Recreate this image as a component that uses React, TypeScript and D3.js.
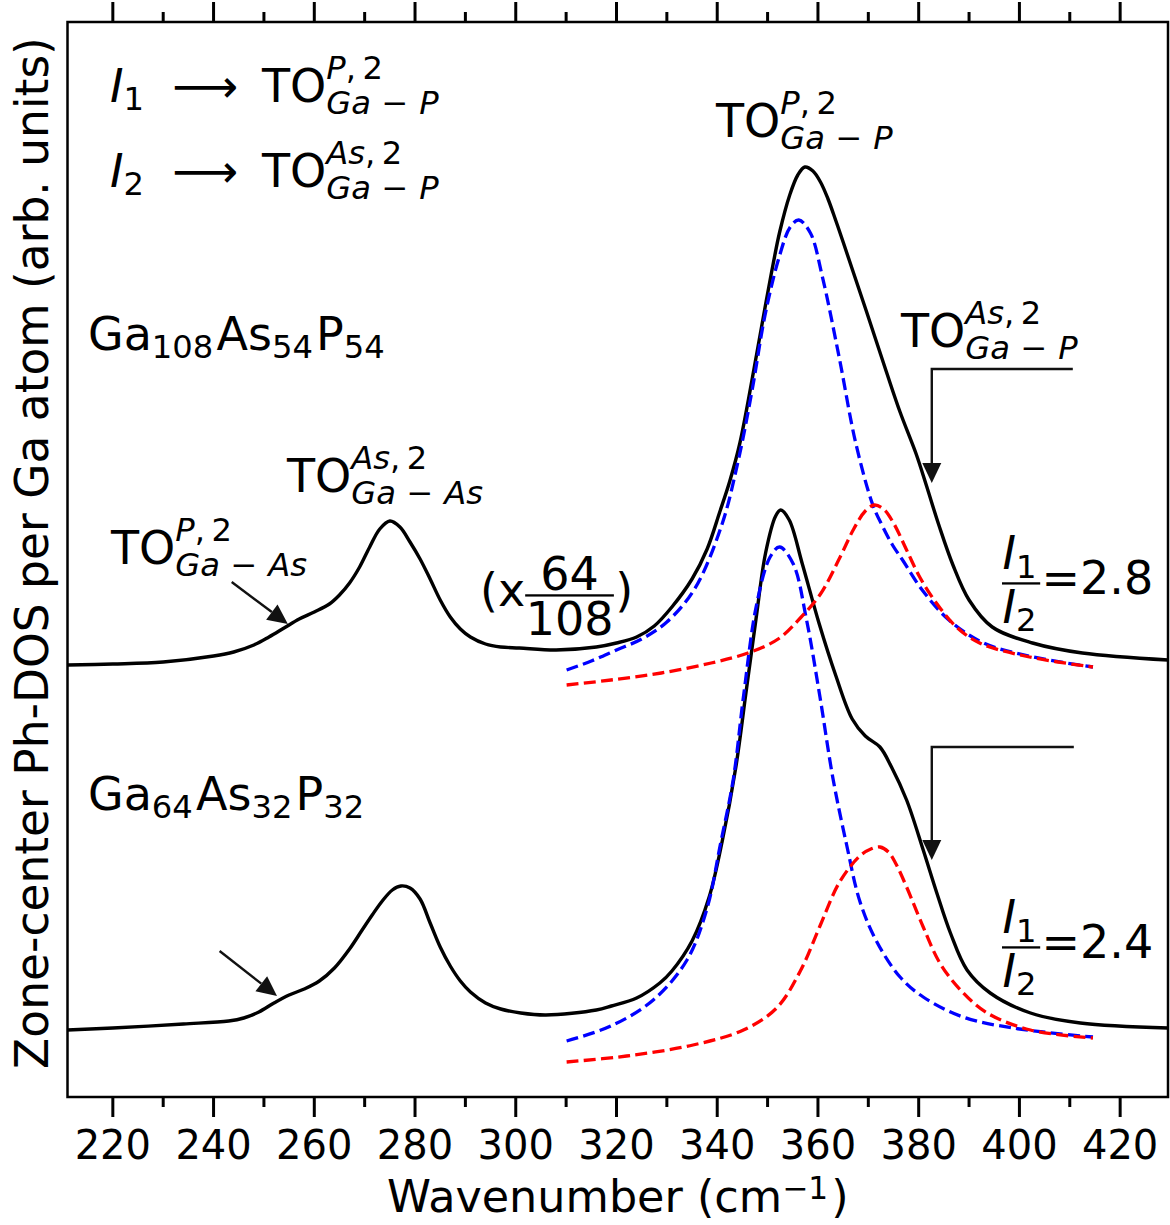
import React from 'react';
import * as d3 from 'd3';

// ---------- data ----------
const X_DOMAIN: [number, number] = [211, 429.5];
const Y_DOMAIN: [number, number] = [0, 10.75];
const MAJOR_TICKS = [220, 240, 260, 280, 300, 320, 340, 360, 380, 400, 420];
const MINOR_TICKS = [230, 250, 270, 290, 310, 330, 350, 370, 390, 410];

// Ga108As54P54 (scaled x64/108), total
const ga108Wave = [211, 220, 230, 240, 244, 248, 251, 254, 257, 260, 263, 265, 267, 269, 271, 273, 275, 277, 279, 281, 283, 285, 287, 289, 291, 294, 297, 300.7, 308, 316, 320, 324, 327.5, 331, 335, 338, 340.5, 342.5, 344.5, 347.8, 349.8, 351.1, 352.4, 354.4, 356, 357.4, 359, 360.5, 362, 363.5, 365, 367, 369.6, 373.6, 376.3, 379.5, 381.5, 384, 386.8, 390, 394.6, 402.6, 412.5, 429.5];
const ga108Total = [4.32, 4.33, 4.35, 4.41, 4.45, 4.52, 4.6, 4.69, 4.78, 4.85, 4.93, 5.02, 5.14, 5.3, 5.5, 5.68, 5.76, 5.7, 5.55, 5.38, 5.18, 4.97, 4.8, 4.68, 4.6, 4.53, 4.5, 4.49, 4.47, 4.5, 4.54, 4.6, 4.71, 4.9, 5.18, 5.48, 5.85, 6.16, 6.54, 7.42, 7.98, 8.33, 8.65, 9.02, 9.22, 9.3, 9.26, 9.15, 8.98, 8.77, 8.55, 8.25, 7.86, 7.25, 6.85, 6.43, 6.12, 5.72, 5.32, 4.97, 4.7, 4.54, 4.44, 4.37];
// fitted components (Ga108)
const ga108P_Wave = [310.1, 315, 320, 325, 330, 335.5, 340.9, 344.2, 346.9, 349.5, 352.3, 354.5, 356.2, 358.5, 360.8, 364.2, 367.5, 370.9, 372.9, 374.8, 376.8, 380.7, 386, 392.9, 402.8, 414.6];
const ga108P_Val = [4.27, 4.36, 4.47, 4.58, 4.75, 5.08, 5.72, 6.37, 7.06, 7.82, 8.4, 8.7, 8.77, 8.64, 8.22, 7.4, 6.54, 5.92, 5.7, 5.52, 5.37, 5.07, 4.77, 4.54, 4.4, 4.3];
const ga108As_Wave = [310.1, 318.9, 328.9, 338.8, 346.1, 352.1, 356.5, 360.5, 364.5, 367.1, 369.4, 371.2, 373, 375, 377.6, 380.2, 383.5, 387.5, 392.1, 402, 414.6];
const ga108As_Val = [4.12, 4.17, 4.24, 4.34, 4.44, 4.58, 4.79, 5.03, 5.41, 5.68, 5.86, 5.92, 5.88, 5.74, 5.47, 5.2, 4.94, 4.7, 4.54, 4.4, 4.3];

// Ga64As32P32, total
const ga64Wave = [211, 220, 234, 243, 246, 249, 252, 255, 258, 261, 264, 267, 269.5, 271.5, 273.5, 275.5, 277.2, 279, 281, 283, 285, 287, 289, 291, 294, 297, 301, 306, 316, 319, 324, 328.6, 331, 335, 338.4, 341, 343.7, 345.7, 347.7, 349.6, 351.6, 352.6, 354.3, 356.9, 360.2, 363.5, 366.8, 369.4, 372.3, 374.6, 377.6, 380.9, 383.6, 386.3, 389.6, 394.2, 402.2, 412.1, 429.5];
const ga64Total = [0.67, 0.69, 0.73, 0.76, 0.79, 0.85, 0.94, 1.02, 1.08, 1.16, 1.29, 1.48, 1.67, 1.82, 1.96, 2.07, 2.11, 2.09, 1.98, 1.74, 1.5, 1.31, 1.16, 1.05, 0.94, 0.88, 0.84, 0.82, 0.87, 0.91, 0.99, 1.14, 1.26, 1.56, 2.0, 2.56, 3.3, 4.04, 4.78, 5.44, 5.81, 5.87, 5.77, 5.33, 4.74, 4.22, 3.78, 3.61, 3.5, 3.3, 2.97, 2.47, 2.04, 1.64, 1.27, 1.04, 0.84, 0.74, 0.69];
const ga64P_Wave = [310.1, 318.9, 327.3, 334, 338, 340.6, 343.2, 345.2, 347.8, 350.5, 352.4, 355.1, 357.7, 360.4, 363, 365.7, 368.3, 371.6, 376.3, 380.9, 388.8, 398.7, 414.6];
const ga64P_Val = [0.56, 0.71, 0.97, 1.37, 1.89, 2.52, 3.18, 4.0, 4.92, 5.4, 5.5, 5.33, 4.78, 4.0, 3.18, 2.52, 1.96, 1.56, 1.2, 1.0, 0.8, 0.69, 0.6];
const ga64As_Wave = [310.1, 322, 335.2, 345.2, 351.8, 356.5, 360.4, 364.3, 368.3, 370.5, 372.3, 374, 375.5, 377.6, 380.9, 384.2, 388.3, 393.6, 402.2, 414.6];
const ga64As_Val = [0.35, 0.41, 0.52, 0.67, 0.89, 1.26, 1.71, 2.15, 2.41, 2.48, 2.5, 2.45, 2.33, 2.1, 1.7, 1.34, 1.07, 0.84, 0.67, 0.59];

// annotation arrows, data coordinates [wavenumber, intensity]; last point = tip
const arrowUpperBracket: [number, number][] = [[410.6, 7.28], [382.6, 7.28], [382.6, 6.14]];
const arrowLowerBracket: [number, number][] = [[410.8, 3.5], [382.6, 3.5], [382.6, 2.37]];
const arrowUpperDiag: [number, number][] = [[243.6, 5.15], [254.75, 4.73]];
const arrowLowerDiag: [number, number][] = [[241.2, 1.46], [252.6, 1.01]];

// ---------- layout ----------
const W = 1170, H = 1225;
const M = { left: 67.5, right: 1168, top: 22, bottom: 1097 };
const FONT = 'DejaVu Sans';
const FS = 46, TICK_FS = 40, LABEL_FS = 44.5, YLABEL_FS = 45.5;

type MNode =
  | { t: string; it?: boolean }
  | { gap: number }
  | { at: number }
  | { frac: [MNode[], MNode[]] }
  | { sub?: MNode[]; sup?: MNode[]; supShift?: number };
type Run = { x: number; y: number; t: string; size: number; it?: boolean };
type Bar = { x1: number; x2: number; y: number; th: number };

let _ctx: CanvasRenderingContext2D | null = null;
function tw(t: string, size: number, it?: boolean) {
  if (!_ctx) _ctx = document.createElement('canvas').getContext('2d');
  if (!_ctx) return t.length * size * 0.6;
  _ctx.font = `${it ? 'italic ' : ''}${size}px "${FONT}"`;
  return _ctx.measureText(t).width;
}
function hasSub(nodes: MNode[]): boolean {
  return nodes.some((n) => 'sub' in n && !!(n as any).sub);
}
function lay(nodes: MNode[], x0: number, y: number, size: number, runs: Run[], bars: Bar[]): number {
  let x = x0;
  for (const n of nodes) {
    if ('t' in n) {
      runs.push({ x, y, t: n.t, size, it: n.it });
      x += tw(n.t, size, n.it);
    } else if ('gap' in n) {
      x += n.gap * size;
    } else if ('at' in n) {
      x = n.at;
    } else if ('frac' in n) {
      const [num, den] = n.frac;
      const nr: Run[] = [], nb: Bar[] = [];
      const wn = lay(num, 0, 0, size, nr, nb);
      const dr: Run[] = [], db: Bar[] = [];
      const wd = lay(den, 0, 0, size, dr, db);
      const w = Math.max(wn, wd) + 0.02 * size;
      const th = 0.05 * size;
      const bar = y - 0.23 * size;
      const numBase = bar - 2.5 * th - (hasSub(num) ? 0.18 * size : 0);
      const denBase = bar + 2.5 * th + 0.729 * size;
      nr.forEach((r) => runs.push({ ...r, x: x + (w - wn) / 2 + r.x, y: numBase + r.y }));
      dr.forEach((r) => runs.push({ ...r, x: x + (w - wd) / 2 + r.x, y: denBase + r.y }));
      bars.push({ x1: x, x2: x + w, y: bar, th });
      x += w + 0.03 * size;
    } else {
      const s2 = size * 0.7;
      const both = !!(n.sub && n.sup);
      let w1 = 0, w2 = 0;
      const up = n.supShift ?? (both ? 0.5 : 0.4);
      if (n.sup) w1 = lay(n.sup, x, y - up * size, s2, runs, bars) - x;
      if (n.sub) w2 = lay(n.sub, x, y + (both ? 0.25 : 0.18) * size, s2, runs, bars) - x;
      x += Math.max(w1, w2) + 0.1 * s2;
    }
  }
  return x;
}

function MathText({ nodes, x, y, size, anchor = 'start' }: { nodes: MNode[]; x: number; y: number; size: number; anchor?: 'start' | 'middle' }) {
  const runs: Run[] = [], bars: Bar[] = [];
  let off = 0;
  if (anchor === 'middle') {
    const tr: Run[] = [], tb: Bar[] = [];
    const w = lay(nodes, 0, 0, size, tr, tb);
    off = -w / 2;
  }
  lay(nodes, x + off, y, size, runs, bars);
  return (
    <g>
      <text fontFamily={FONT} fill="#000">
        {runs.map((r, i) => (
          <tspan key={i} x={r.x} y={r.y} fontSize={r.size} fontStyle={r.it ? 'italic' : 'normal'}>
            {r.t}
          </tspan>
        ))}
      </text>
      {bars.map((b, i) => (
        <rect key={'b' + i} x={b.x1} y={b.y - b.th / 2} width={b.x2 - b.x1} height={b.th} fill="#000" />
      ))}
    </g>
  );
}

const it = (t: string): MNode => ({ t, it: true });
const rm = (t: string): MNode => ({ t });
const MINUS_SP = '\u2004\u2212\u2004';
const TO = (supA: string, subB: string): MNode[] => [
  rm('TO'),
  { sup: [it(supA), rm(',\u2009'), rm('2')], sub: [it('Ga'), rm(MINUS_SP), it(subB)] },
];

function Arrow({ pts, sx, sy }: { pts: [number, number][]; sx: (v: number) => number; sy: (v: number) => number }) {
  const p = pts.map(([a, b]) => [sx(a), sy(b)] as [number, number]);
  const tip = p[p.length - 1];
  const prev = p[p.length - 2];
  const dx = tip[0] - prev[0], dy = tip[1] - prev[1];
  const len = Math.hypot(dx, dy);
  const ux = dx / len, uy = dy / len;
  const hl = 20, hw = 9.5;
  const base: [number, number] = [tip[0] - ux * hl, tip[1] - uy * hl];
  const linePts = [...p.slice(0, -1), base];
  const d = 'M' + linePts.map((q) => q.join(',')).join('L');
  const head = [
    tip,
    [base[0] - uy * hw, base[1] + ux * hw],
    [base[0] + uy * hw, base[1] - ux * hw],
  ];
  return (
    <g>
      <path d={d} fill="none" stroke="#111" strokeWidth={2.4} />
      <polygon points={head.map((q) => q.join(',')).join(' ')} fill="#111" />
    </g>
  );
}

export default function App() {
  const x = d3.scaleLinear().domain(X_DOMAIN).range([M.left, M.right]);
  const y = d3.scaleLinear().domain(Y_DOMAIN).range([M.bottom, M.top]);
  const line = d3
    .line<[number, number]>()
    .x((d) => x(d[0]))
    .y((d) => y(d[1]))
    .curve(d3.curveCatmullRom.alpha(0.5));
  const pts = (w: number[], v: number[]) => w.map((a, i) => [a, v[i]] as [number, number]);

  const dash = '12 5.3';

  return (
    <svg width={W} height={H} style={{ position: 'absolute', left: 0, top: 0, background: '#fff' }}>
      <rect x={0} y={0} width={W} height={H} fill="#fff" />
      {/* curves */}
      <path d={line(pts(ga108Wave, ga108Total)) || ''} fill="none" stroke="#000" strokeWidth={3.4} strokeLinejoin="round" />
      <path d={line(pts(ga64Wave, ga64Total)) || ''} fill="none" stroke="#000" strokeWidth={3.4} strokeLinejoin="round" />
      <path d={line(pts(ga108P_Wave, ga108P_Val)) || ''} fill="none" stroke="#0000ff" strokeWidth={3.3} strokeDasharray={dash} />
      <path d={line(pts(ga64P_Wave, ga64P_Val)) || ''} fill="none" stroke="#0000ff" strokeWidth={3.3} strokeDasharray={dash} />
      <path d={line(pts(ga108As_Wave, ga108As_Val)) || ''} fill="none" stroke="#ff0000" strokeWidth={3.3} strokeDasharray={dash} />
      <path d={line(pts(ga64As_Wave, ga64As_Val)) || ''} fill="none" stroke="#ff0000" strokeWidth={3.3} strokeDasharray={dash} />

      {/* frame */}
      <rect x={M.left} y={M.top} width={M.right - M.left} height={M.bottom - M.top} fill="none" stroke="#000" strokeWidth={2.5} />
      {/* ticks */}
      {MAJOR_TICKS.map((t) => (
        <g key={'M' + t}>
          <line x1={x(t)} x2={x(t)} y1={M.bottom} y2={M.bottom + 20} stroke="#000" strokeWidth={3} />
          <line x1={x(t)} x2={x(t)} y1={M.top} y2={M.top - 20} stroke="#000" strokeWidth={3} />
          <text x={x(t)} y={1159} fontSize={TICK_FS} fontFamily={FONT} textAnchor="middle" fill="#000">
            {t}
          </text>
        </g>
      ))}
      {MINOR_TICKS.map((t) => (
        <g key={'m' + t}>
          <line x1={x(t)} x2={x(t)} y1={M.bottom} y2={M.bottom + 10} stroke="#000" strokeWidth={3} />
          <line x1={x(t)} x2={x(t)} y1={M.top} y2={M.top - 10} stroke="#000" strokeWidth={3} />
        </g>
      ))}
      {/* axis labels */}
      <MathText nodes={[rm('Wavenumber (cm'), { sup: [rm('\u22121')], supShift: 0.3 }, rm(')')]} x={(M.left + M.right) / 2} y={1212} size={LABEL_FS} anchor="middle" />
      <text transform={`translate(48,553) rotate(-90)`} fontSize={YLABEL_FS} fontFamily={FONT} textAnchor="middle" fill="#000">
        Zone-center Ph-DOS per Ga atom (arb. units)
      </text>

      {/* annotations */}
      <MathText nodes={[it('I'), { sub: [rm('1')] }, { at: 172 }, rm('\u27F6'), { at: 262 }, ...TO('P', 'P')]} x={110} y={102} size={FS} />
      <MathText nodes={[it('I'), { sub: [rm('2')] }, { at: 172 }, rm('\u27F6'), { at: 262 }, ...TO('As', 'P')]} x={110} y={187} size={FS} />
      <MathText nodes={[rm('Ga'), { sub: [rm('108')] }, rm('As'), { sub: [rm('54')] }, rm('P'), { sub: [rm('54')] }]} x={88} y={350} size={FS} />
      <MathText nodes={[rm('Ga'), { sub: [rm('64')] }, rm('As'), { sub: [rm('32')] }, rm('P'), { sub: [rm('32')] }]} x={88} y={810} size={FS} />
      <MathText nodes={TO('As', 'As')} x={287} y={492} size={FS} />
      <MathText nodes={TO('P', 'As')} x={111} y={564} size={FS} />
      <MathText nodes={TO('P', 'P')} x={716} y={137} size={FS} />
      <MathText nodes={TO('As', 'P')} x={901} y={347} size={FS} />
      <MathText nodes={[rm('(x'), { frac: [[rm('64')], [rm('108')]] }, rm(')')]} x={480} y={606} size={FS} />
      <MathText nodes={[{ frac: [[it('I'), { sub: [rm('1')] }], [it('I'), { sub: [rm('2')] }]] }, rm('=2.8')]} x={1002} y={594} size={FS} />
      <MathText nodes={[{ frac: [[it('I'), { sub: [rm('1')] }], [it('I'), { sub: [rm('2')] }]] }, rm('=2.4')]} x={1002} y={958} size={FS} />

      <Arrow pts={arrowUpperBracket} sx={x} sy={y} />
      <Arrow pts={arrowLowerBracket} sx={x} sy={y} />
      <Arrow pts={arrowUpperDiag} sx={x} sy={y} />
      <Arrow pts={arrowLowerDiag} sx={x} sy={y} />
    </svg>
  );
}
